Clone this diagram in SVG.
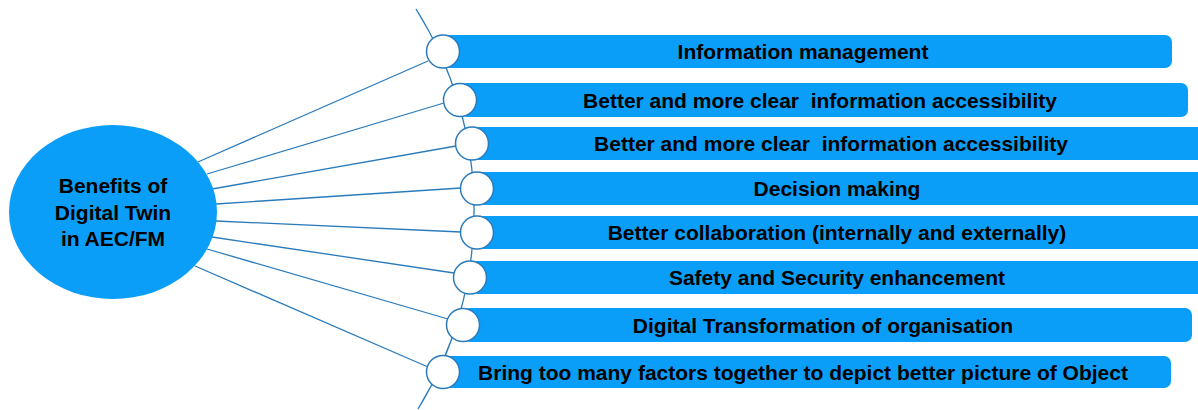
<svg xmlns="http://www.w3.org/2000/svg" width="1198" height="410" viewBox="0 0 1198 410">
<style>
.bar{fill:#0b9ef8;}
.dot{fill:#ffffff;stroke:#2b7bbb;stroke-width:1.5;}
.lbl{font-family:"Liberation Sans",Arial,sans-serif;font-weight:bold;font-size:21px;fill:#000000;text-anchor:middle;white-space:pre;}
.conn{stroke:#2b7bbb;stroke-width:1.3;fill:none;}
</style>
<rect width="1198" height="410" fill="#ffffff"/>
<g id="connectors">
<path class="conn" d="M 416 9 A 379 379 0 0 1 418 409"/>
<line class="conn" x1="198" y1="162" x2="428" y2="61"/>
<line class="conn" x1="207" y1="174" x2="444" y2="103"/>
<line class="conn" x1="212" y1="189" x2="456" y2="146"/>
<line class="conn" x1="216" y1="204" x2="461" y2="188"/>
<line class="conn" x1="216" y1="221" x2="461" y2="232"/>
<line class="conn" x1="212" y1="237" x2="454" y2="273"/>
<line class="conn" x1="207" y1="249" x2="448" y2="319"/>
<line class="conn" x1="195" y1="266" x2="428" y2="367"/>
</g>
<g id="center">
<ellipse cx="113" cy="212" rx="104" ry="87" fill="#0b9ef8"/>
<text class="lbl" x="113" y="193" font-size="19">Benefits of</text>
<text class="lbl" x="113" y="220" font-size="19">Digital Twin</text>
<text class="lbl" x="113" y="246" font-size="19">in AEC/FM</text>
</g>
<g id="item1">
<rect class="bar" x="443" y="35" width="729" height="33" rx="7"/>
<circle class="dot" cx="443" cy="51.5" r="16.5"/>
<text class="lbl" x="803" y="59">Information management</text>
</g>
<g id="item2">
<rect class="bar" x="460" y="83" width="728" height="34" rx="7"/>
<circle class="dot" cx="460" cy="100" r="16.5"/>
<text class="lbl" x="820" y="107.5" xml:space="preserve">Better and more clear  information accessibility</text>
</g>
<g id="item3">
<rect class="bar" x="472" y="127" width="732" height="33" rx="7"/>
<circle class="dot" cx="472" cy="143.5" r="16.5"/>
<text class="lbl" x="831" y="151" xml:space="preserve">Better and more clear  information accessibility</text>
</g>
<g id="item4">
<rect class="bar" x="477" y="172" width="727" height="33" rx="7"/>
<circle class="dot" cx="477" cy="188.5" r="16.5"/>
<text class="lbl" x="837" y="196">Decision making</text>
</g>
<g id="item5">
<rect class="bar" x="477" y="216" width="727" height="33" rx="7"/>
<circle class="dot" cx="477" cy="232.5" r="16.5"/>
<text class="lbl" x="837" y="240">Better collaboration (internally and externally)</text>
</g>
<g id="item6">
<rect class="bar" x="470" y="261" width="734" height="33" rx="7"/>
<circle class="dot" cx="470" cy="277.5" r="16.5"/>
<text class="lbl" x="837" y="285">Safety and Security enhancement</text>
</g>
<g id="item7">
<rect class="bar" x="463" y="308" width="729" height="34" rx="7"/>
<circle class="dot" cx="463" cy="325" r="16.5"/>
<text class="lbl" x="823" y="332.5">Digital Transformation of organisation</text>
</g>
<g id="item8">
<rect class="bar" x="443" y="356" width="728" height="32" rx="7"/>
<circle class="dot" cx="443" cy="372" r="16.5"/>
<text class="lbl" x="803" y="379.5">Bring too many factors together to depict better picture of Object</text>
</g>
</svg>
